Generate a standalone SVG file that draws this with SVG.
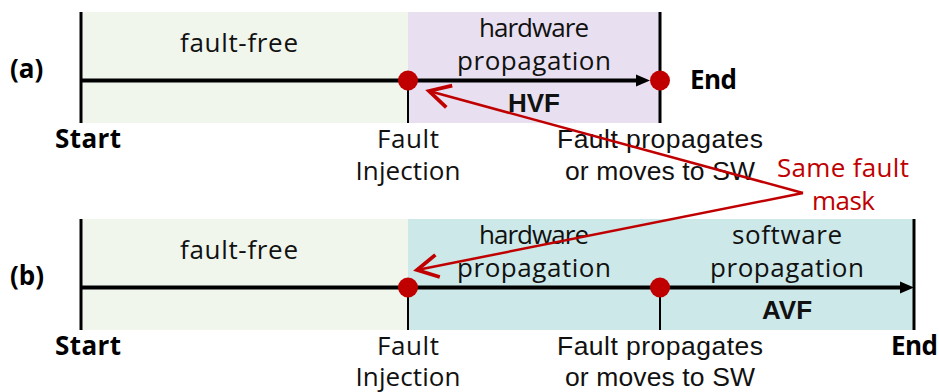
<svg xmlns="http://www.w3.org/2000/svg" width="939" height="392" viewBox="0 0 939 392">
  <defs>
    <style>
      .ub { font-family: "Open Sans", "Noto Sans", "DejaVu Sans", sans-serif; font-size: 26px; fill: #111; }
      .ubb { font-family: "Open Sans", "Noto Sans", "DejaVu Sans", sans-serif; font-size: 26px; font-weight: bold; fill: #000; }
      .ar { font-family: "Liberation Sans", Arial, sans-serif; font-size: 26.5px; fill: #111; }
      .arb { font-family: "Liberation Sans", Arial, sans-serif; font-size: 26px; font-weight: bold; fill: #111; }
      .red { fill: #C00000; }
      .mid { text-anchor: middle; }
      .axis { stroke: #000; stroke-width: 4; fill: none; }
      .bound { stroke: #000; stroke-width: 3; }
      .tick { stroke: #000; stroke-width: 2; }
      .dot { fill: #C00000; }
      .mask { stroke: #C00000; stroke-width: 2.5; fill: none; }
    </style>
    <marker id="open" markerUnits="userSpaceOnUse" markerWidth="30" markerHeight="30" viewBox="-16 -10 20 20" refX="0" refY="0" orient="auto" overflow="visible">
      <path d="M-14,-7.5 L0,0 L-14,7.5" fill="none" stroke="#C00000" stroke-width="2.5"/>
    </marker>
  </defs>

  <!-- (a) hardware-only run -->
  <g id="timeline-a">
    <rect x="81" y="12" width="327" height="111" fill="#F0F6EC"/>
    <rect x="408" y="12" width="252" height="111" fill="#E8E0F0"/>
    <line class="bound" x1="81" y1="12" x2="81" y2="123"/>
    <line class="bound" x1="660" y1="12" x2="660" y2="123"/>
    <line class="tick" x1="408" y1="80.5" x2="408" y2="123"/>
    <line class="axis" x1="81" y1="80.5" x2="638" y2="80.5"/>
    <polygon points="636,74.5 650,80.5 636,86.5" fill="#000"/>
    <circle class="dot" cx="408" cy="80.5" r="10"/>
    <circle class="dot" cx="660" cy="80.5" r="10"/>
    <text class="ubb" x="10" y="78">(a)</text>
    <text class="ub mid" x="239" y="52" textLength="118">fault-free</text>
    <text class="ub mid" x="534" y="37" textLength="110">hardware</text>
    <text class="ub mid" x="534" y="70" textLength="154">propagation</text>
    <text class="arb mid" x="534" y="112">HVF</text>
    <text class="ubb" x="690" y="89" textLength="47">End</text>
    <text class="ubb" x="55" y="148" textLength="66">Start</text>
    <text class="ub mid" x="408" y="148" textLength="62">Fault</text>
    <text class="ub mid" x="408" y="180" textLength="105">Injection</text>
    <text class="ar mid" x="660" y="148" textLength="206">Fault propagates</text>
    <text class="ar mid" x="660" y="180" textLength="190">or moves to SW</text>
  </g>

  <!-- (b) full-system run -->
  <g id="timeline-b">
    <rect x="81" y="219" width="327" height="111" fill="#F0F6EC"/>
    <rect x="408" y="219" width="506" height="111" fill="#CCE8E8"/>
    <line class="bound" x1="81" y1="219" x2="81" y2="330"/>
    <line class="bound" x1="914" y1="219" x2="914" y2="330"/>
    <line class="tick" x1="408" y1="287.5" x2="408" y2="330"/>
    <line class="tick" x1="660" y1="287.5" x2="660" y2="330"/>
    <line class="axis" x1="81" y1="287.5" x2="902" y2="287.5"/>
    <polygon points="900,281.5 914,287.5 900,293.5" fill="#000"/>
    <circle class="dot" cx="408" cy="287.5" r="10"/>
    <circle class="dot" cx="660" cy="287.5" r="10"/>
    <text class="ubb" x="10" y="285">(b)</text>
    <text class="ub mid" x="239" y="259" textLength="118">fault-free</text>
    <text class="ub mid" x="534" y="244" textLength="110">hardware</text>
    <text class="ub mid" x="534" y="277" textLength="154">propagation</text>
    <text class="ub mid" x="787" y="244" textLength="110">software</text>
    <text class="ub mid" x="787" y="277" textLength="154">propagation</text>
    <text class="arb mid" x="787" y="319">AVF</text>
    <text class="ubb" x="55" y="355" textLength="66">Start</text>
    <text class="ubb" x="891" y="355" textLength="47">End</text>
    <text class="ub mid" x="408" y="355" textLength="62">Fault</text>
    <text class="ub mid" x="408" y="386" textLength="105">Injection</text>
    <text class="ar mid" x="660" y="355" textLength="206">Fault propagates</text>
    <text class="ar mid" x="660" y="386" textLength="190">or moves to SW</text>
  </g>

  <!-- shared-mask callout -->
  <g id="callout">
    <text class="ub red" x="777" y="177" textLength="132">Same fault</text>
    <text class="ub red mid" x="843.5" y="210" textLength="63">mask</text>
  </g>

  <g id="connectors">
    <line class="mask" x1="803" y1="193" x2="429" y2="91" marker-end="url(#open)"/>
    <line class="mask" x1="803" y1="193" x2="417" y2="270" marker-end="url(#open)"/>
  </g>
</svg>
